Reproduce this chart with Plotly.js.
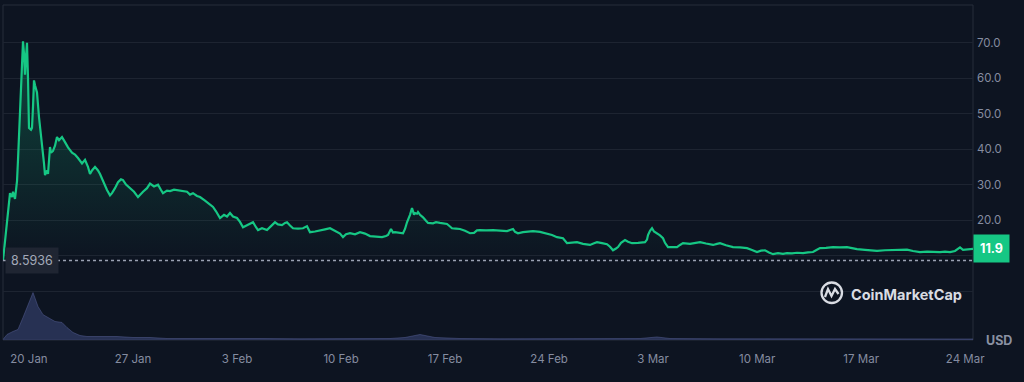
<!DOCTYPE html>
<html>
<head>
<meta charset="utf-8">
<script src="https://cdn.plot.ly/plotly-3.0.1.min.js"></script>
<style>
  html, body { margin: 0; padding: 0; background: #0d1421; }
  #chart { width: 1024px; height: 382px; }
</style>
</head>
<body>
<div id="chart"></div>
<script>
// ---- Data ----
// Day offsets relative to 20 Jan 2025 00:00 (UTC)
const priceDays = [-1.75,-1.615,-1.48,-1.279,-1.144,-1.077,-0.942,-0.807,-0.74,-0.606,-0.471,-0.404,-0.336,-0.269,-0.202,-0.135,-0.067,0,0.135,0.202,0.269,0.336,0.404,0.538,0.673,0.808,0.875,1.009,1.077,1.211,1.279,1.413,1.48,1.615,1.75,1.884,2.019,2.221,2.423,2.624,2.894,3.095,3.297,3.567,3.768,3.97,4.105,4.24,4.441,4.643,4.778,4.98,5.249,5.451,5.585,5.787,5.989,6.191,6.326,6.528,6.797,7.066,7.335,7.537,7.672,7.941,8.143,8.412,8.681,8.883,9.017,9.287,9.489,9.758,9.96,10.229,10.633,10.834,11.036,11.306,11.508,11.844,12.181,12.383,12.584,12.853,13.122,13.324,13.526,13.728,13.997,14.199,14.401,14.67,14.872,15.074,15.276,15.411,15.68,16.016,16.285,16.555,16.756,17.026,17.227,17.362,17.564,17.766,18.102,18.439,18.708,18.91,19.246,19.583,19.919,20.256,20.592,20.929,21.131,21.332,21.602,21.938,22.275,22.611,22.948,23.351,23.755,24.024,24.159,24.361,24.495,24.63,24.899,25.168,25.303,25.437,25.639,25.774,25.908,25.976,26.11,26.178,26.312,26.514,26.716,26.851,27.187,27.389,27.658,27.927,28.129,28.331,28.466,28.735,29.004,29.341,29.677,29.946,30.148,30.35,30.754,31.225,31.696,32.167,32.369,32.571,32.705,32.907,33.244,33.58,33.917,34.388,34.859,35.195,35.532,35.935,36.205,36.541,36.878,37.281,37.753,38.022,38.224,38.56,38.897,39.099,39.3,39.502,39.637,39.839,40.108,40.31,40.579,40.983,41.454,41.588,41.655,41.79,41.925,42.059,42.261,42.463,42.665,42.799,43.001,43.338,43.607,43.809,44.011,44.482,44.818,45.155,45.559,46.03,46.299,46.501,46.904,47.375,47.846,48.318,48.654,48.991,49.26,49.529,49.798,50.067,50.404,50.74,51.009,51.346,51.683,52.086,52.423,52.759,52.961,53.23,53.634,54.105,54.576,55.047,55.384,55.72,56.259,56.729,57.066,57.604,58.143,58.614,59.085,59.489,59.96,60.431,60.834,61.306,61.642,61.979,62.315,62.45,62.652,62.854,63.055,63.324,63.526];
const price = [8.59,14,20,27.6,26.5,28,26,31,37,50,68,70.4,67,61,66,70,60,46,45.5,46,52,59.4,58,56,49,44,42.5,36,32.7,34,33,40.6,39,39.5,41,43.4,42.5,43.4,42,40.5,39,38.5,37.5,36,37,35,33,34,35,34,33,31,28.5,27,27.6,29,30.7,31.5,31.3,30,29,28,26.5,27.5,28,29,30.3,29.5,30,28.5,27.6,28.3,28.2,28.6,28.5,28.3,28,27.2,27.6,26.8,26.5,25.5,24.2,23.7,22.5,20.6,21.5,21,22,21,20.6,19.5,18,18.5,19,19.4,18,17.2,17.7,17.2,18.3,19.4,18.8,18.6,19.2,19.4,18.5,17.7,17.6,17.7,18.3,16.6,16.8,17.2,17.4,17.7,17,16.2,15.2,16,16.3,16,16.6,16.2,15.5,15.3,15.2,15.5,15.8,17.5,16.5,16.6,16.4,16.3,17.5,19.4,21.5,23.4,21.5,22,21.8,22.3,21.5,20.8,19.8,19.2,19.1,19.4,19.2,19,18.9,18.2,17.7,17.6,17.5,17,16.3,16.4,17.1,17.2,17.1,17.2,17,16.9,17.2,17.5,16.7,16.3,16.6,16.8,16.9,16.7,16.3,15.8,15.2,14.9,13.5,13.6,13.8,13.3,13,13.5,13.8,13.5,13.2,12.5,11.5,12,12.4,13.6,14.4,13.9,13.5,13.6,13.8,14.5,15.8,17,17.7,16.8,16.3,15.7,14.9,13.6,12.4,12.3,12.4,13,13.5,13.3,13.6,13.8,13.4,13,13.3,13.5,12.9,12.4,12.3,12.1,11.6,11,11.4,11.5,10.9,10.4,10.7,10.5,10.7,10.6,10.8,10.7,10.9,11,11.5,12.1,12.2,12.4,12.3,12.4,12.1,11.8,11.6,11.4,11.3,11.5,11.6,11.5,11.7,11.3,11,11.1,11,11,11.1,11,11.3,11.8,12.3,11.6,11.7,11.9,11.9];

const volumeDays = [-1.75,-1.48,-1.077,-0.74,-0.404,-0.067,0.269,0.606,0.942,1.279,1.75,2.221,2.557,2.961,3.432,3.903,4.778,5.922,6.999,8.143,9.287,11.508,13.728,15.545,18.237,20.929,24.293,25.303,26.312,27.322,29.004,31.696,35.734,38.426,41.118,42.261,43.136,46.501,50.538,55.249,58.614,63.526];
const volume = [1,11.5,17.8,22,47,74,99,70,53,47,38.7,36.6,26,15.7,9.4,7.3,7.3,7.3,5.2,5.2,3.1,3.1,4.2,3.1,2.5,2.5,3.1,5.2,11.5,5.2,3.1,2.5,2.5,3.1,3.1,6.3,3.1,2.5,2.1,2.1,1.7,2.1];

const openPrice = 8.5936;
const lastPrice = 11.9;
const xTickDates = ['2025-01-20','2025-01-27','2025-02-03','2025-02-10','2025-02-17','2025-02-24','2025-03-03','2025-03-10','2025-03-17','2025-03-24'];
const xTickLabels = ['20 Jan','27 Jan','3 Feb','10 Feb','17 Feb','24 Feb','3 Mar','10 Mar','17 Mar','24 Mar'];
const yTickVals = [0,10,20,30,40,50,60,70];
const yTickLabels = ['','','20.0','30.0','40.0','50.0','60.0','70.0'];

// ---- helpers ----
const BASE = Date.UTC(2025, 0, 20);
function toDate(d) {
  return new Date(BASE + d * 864e5).toISOString().replace('T', ' ').slice(0, 19);
}
const px = priceDays.map(toDate);
const vx = volumeDays.map(toDate);
const xStart = px[0], xEnd = px[px.length - 1];

const GREEN = '#16c784';
const BG = '#0d1421';
const GRID = '#1d2431';
const TXT = '#858ca0';

const traces = [
  { // baseline for the fill
    x: [xStart, xEnd], y: [openPrice, openPrice], type: 'scatter', mode: 'lines',
    line: { width: 0, color: 'rgba(0,0,0,0)' }, hoverinfo: 'skip', showlegend: false
  },
  {
    x: px, y: price, type: 'scatter', mode: 'lines',
    line: { color: GREEN, width: 2.2 },
    fill: 'tonexty',
    fillgradient: { type: 'vertical', colorscale: [[0, 'rgba(22,199,132,0)'], [1, 'rgba(22,199,132,0.28)']] },
    showlegend: false
  },
  {
    x: vx, y: volume, type: 'scatter', mode: 'lines', yaxis: 'y2',
    line: { color: 'rgba(85,95,150,0.5)', width: 1 },
    fill: 'tozeroy', fillcolor: 'rgba(62,72,125,0.55)',
    showlegend: false
  }
];

const layout = {
  width: 1024, height: 382,
  paper_bgcolor: BG, plot_bgcolor: BG,
  margin: { l: 3, r: 51, t: 5, b: 42 },
  font: { family: 'Inter, "Noto Sans", sans-serif', color: TXT, size: 11 },
  showlegend: false,
  xaxis: {
    type: 'date', range: [xStart, xEnd],
    tickvals: xTickDates, ticktext: xTickLabels,
    showgrid: false, zeroline: false, showline: false,
    ticks: '', ticklabelstandoff: 10,
    tickfont: { size: 11.5, color: TXT }
  },
  yaxis: {
    side: 'right', range: [-13.8, 80.65],
    tickvals: yTickVals, ticktext: yTickLabels,
    showgrid: true, gridcolor: GRID, gridwidth: 1,
    zeroline: false, showline: false, ticks: '', ticklabelstandoff: 3,
    tickfont: { size: 11.5, color: TXT }
  },
  yaxis2: {
    overlaying: 'y', range: [0, 700], visible: false, showgrid: false, zeroline: false
  },
  shapes: [
    { type: 'rect', xref: 'paper', yref: 'paper', x0: 0, x1: 1, y0: 0, y1: 1,
      line: { color: '#262d3b', width: 1 }, layer: 'below' },
    { type: 'line', xref: 'paper', yref: 'y', x0: 0, x1: 1, y0: openPrice, y1: openPrice,
      line: { color: '#9aa1b2', width: 1.5, dash: 'dot' } },
    // CoinMarketCap logo mark
    { type: 'circle', xref: 'paper', yref: 'paper',
      x0: (821.5 - 3) / 970, x1: (842 - 3) / 970, y0: (340 - 303) / 335, y1: (340 - 282.5) / 335,
      line: { color: '#d9dce3', width: 2.3 } },
    { type: 'path', xref: 'paper', yref: 'paper',
      path: 'M ' + ((825 - 3) / 970) + ',' + ((340 - 297) / 335) +
            ' L ' + ((828 - 3) / 970) + ',' + ((340 - 289) / 335) +
            ' L ' + ((831.5 - 3) / 970) + ',' + ((340 - 296) / 335) +
            ' L ' + ((835 - 3) / 970) + ',' + ((340 - 289) / 335) +
            ' L ' + ((838.5 - 3) / 970) + ',' + ((340 - 294) / 335),
      line: { color: '#d9dce3', width: 2.3 } }
  ],
  annotations: [
    { xref: 'paper', yref: 'y', x: 0, y: openPrice, xanchor: 'left', yanchor: 'middle', xshift: 2,
      text: '8.5936', showarrow: false, bgcolor: '#1f2532', borderpad: 5,
      font: { size: 12.5, color: '#a3a9b8' } },
    { xref: 'paper', yref: 'y', x: 1, y: lastPrice, xanchor: 'left', yanchor: 'middle', xshift: 0,
      text: '<b>' + lastPrice.toFixed(1) + '</b>', showarrow: false, bgcolor: GREEN, borderpad: 6,
      font: { size: 12.5, color: '#ffffff' } },
    { xref: 'paper', yref: 'paper', x: 1, y: 0, xanchor: 'left', yanchor: 'middle', xshift: 11,
      text: '<b>USD</b>', showarrow: false, font: { size: 12.5, color: '#8a91a3' } },
    { xref: 'paper', yref: 'paper', x: (849 - 3) / 970, y: (340 - 294) / 335, xanchor: 'left', yanchor: 'middle',
      text: '<b>CoinMarketCap</b>', showarrow: false, font: { size: 14.5, color: '#d9dce3' } }
  ]
};

Plotly.newPlot('chart', traces, layout, { displayModeBar: false, staticPlot: true });
</script>
</body>
</html>
